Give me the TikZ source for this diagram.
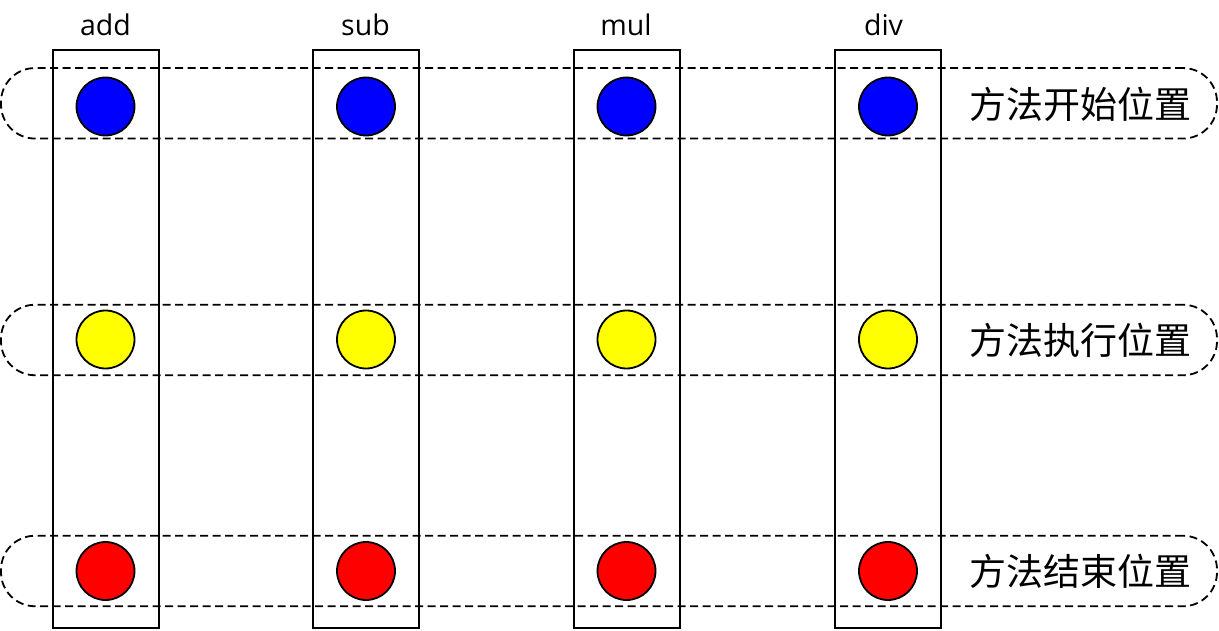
\documentclass[tikz,border=0pt]{standalone}
\usepackage{fontspec}
\setmainfont{Open Sans}
\newfontfamily\cjk{Noto Sans CJK SC}
\definecolor{dotyellow}{RGB}{255,255,0}
\begin{document}
\begin{tikzpicture}[x=1pt,y=-1pt,
  col/.style={draw=black,line width=2pt,minimum width=106pt,minimum height=578pt,inner sep=0pt},
  band/.style={draw=black,line width=1.8pt,dash pattern=on 8pt off 4.5pt,rounded corners=34pt,minimum width=1216pt,minimum height=70.5pt,inner sep=0pt},
  dot/.style={circle,draw=black,line width=1.8pt,minimum size=58pt,inner sep=0pt},
  lbl/.style={font=\fontsize{28.5}{31}\selectfont,inner sep=0pt},
  cn/.style={font=\cjk\fontsize{37}{40}\selectfont,inner sep=0pt}]
\useasboundingbox (0,0) rectangle (1219,631);
% bands
\node[band] (b1) at (609,103.3) {};
\node[band] (b2) at (609,340) {};
\node[band] (b3) at (609,571) {};
% columns
\node[col] (c1) at (106,339) {};
\node[col] (c2) at (366,339) {};
\node[col] (c3) at (626.5,339) {};
\node[col] (c4) at (888,339) {};
% labels
\node[lbl] (l1) at (105.5,25) {add};
\node[lbl] (l2) at (365.5,25) {sub};
\node[lbl] (l3) at (626,25) {mul};
\node[lbl] (l4) at (883.5,25) {div};
% dots
\foreach \x/\n in {105.5/1,366/2,626.5/3,888/4}{
  \node[dot,fill=blue] (s\n) at (\x,106.5) {};
  \node[dot,fill=dotyellow] (m\n) at (\x,339.5) {};
  \node[dot,fill=red] (e\n) at (\x,571) {};
}
% right texts
\node[cn] (t1) at (1080,104) {方法开始位置};
\node[cn] (t2) at (1080,340) {方法执行位置};
\node[cn] (t3) at (1080,571) {方法结束位置};
\end{tikzpicture}
\end{document}
